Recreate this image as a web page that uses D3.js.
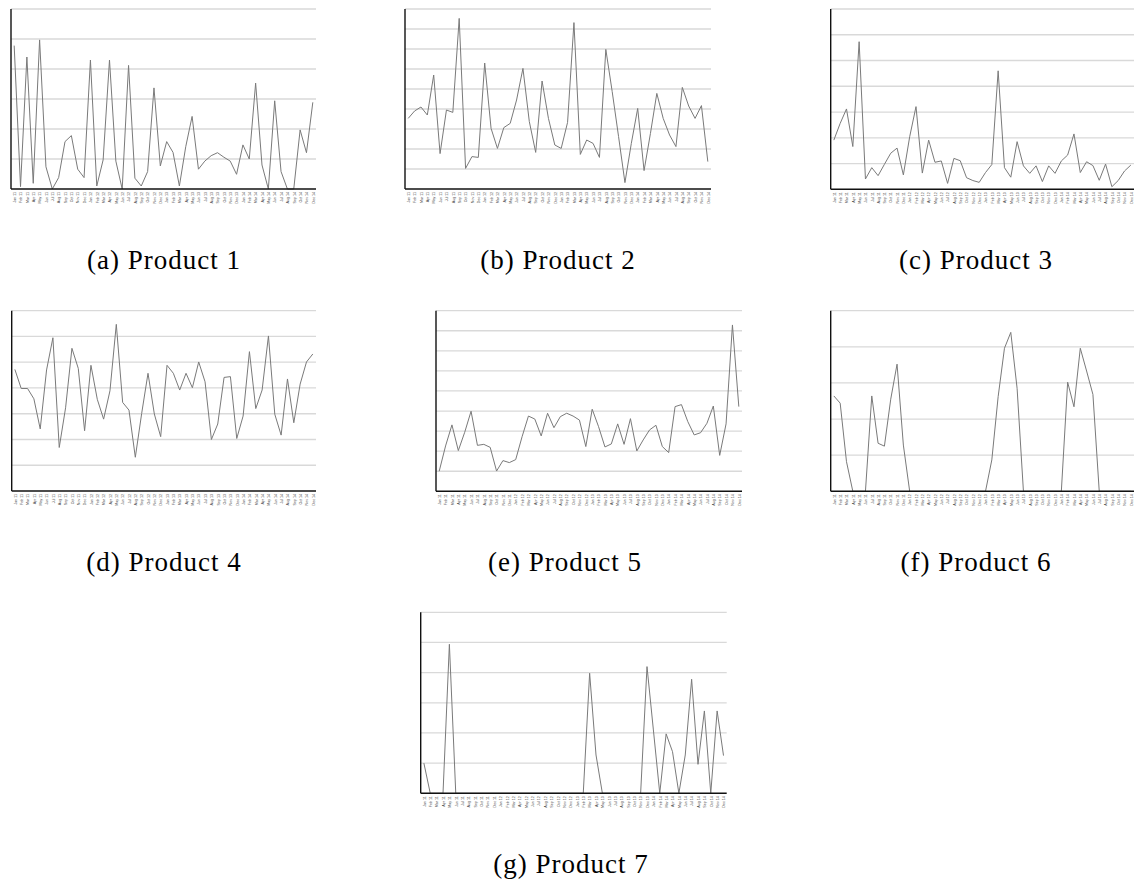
<!DOCTYPE html>
<html>
<head>
<meta charset="utf-8">
<script src="https://cdn.jsdelivr.net/npm/d3@7"></script>
<style>
  html, body { margin: 0; padding: 0; background: #fff; }
  svg { display: block; }
  .caption { font-family: "Liberation Serif", "Times New Roman", serif; fill: #000; letter-spacing: 1px; }
  .tick-label { font-family: "Liberation Sans", Arial, sans-serif; fill: #444; }
</style>
</head>
<body>
<svg id="chart" width="1134" height="882"></svg>
<script>
// Month tick labels, Jan 11 .. Dec 14
const monthNames = ["Jan", "Feb", "Mar", "Apr", "May", "Jun", "Jul", "Aug", "Sep", "Oct", "Nov", "Dec"];
const yearSuffixes = ["11", "12", "13", "14"];
const monthLabels = yearSuffixes.flatMap(y => monthNames.map(m => `${m} ${y}`));

// Panel captions
const panelLetters = ["a", "b", "c", "d", "e", "f", "g"];
const productNames = ["Product 1", "Product 2", "Product 3", "Product 4", "Product 5", "Product 6", "Product 7"];

// Number of gridline steps on each panel's value axis
const gridSteps = [6, 9, 7, 7, 9, 5, 6];

// Monthly sales per product (in gridline units)
const product1 = [4.78, 0.08, 4.40, 0.19, 4.97, 0.74, 0.00, 0.38, 1.58, 1.78, 0.66, 0.38,
                  4.30, 0.10, 0.97, 4.30, 0.93, 0.00, 4.12, 0.36, 0.10, 0.58, 3.37, 0.77,
                  1.58, 1.22, 0.10, 1.41, 2.42, 0.66, 0.93, 1.11, 1.21, 1.06, 0.93, 0.49,
                  1.47, 1.00, 3.53, 0.80, 0.00, 2.94, 0.58, 0.00, 0.00, 1.97, 1.21, 2.89];
const product2 = [3.53, 3.90, 4.10, 3.70, 5.70, 1.77, 3.95, 3.83, 8.53, 1.03, 1.62, 1.58,
                  6.30, 3.03, 2.03, 3.07, 3.28, 4.45, 6.03, 3.37, 1.83, 5.40, 3.53, 2.20,
                  2.03, 3.33, 8.32, 1.73, 2.45, 2.28, 1.58, 6.98, 4.87, 2.62, 0.32, 2.28,
                  4.03, 0.92, 2.78, 4.78, 3.53, 2.70, 2.12, 5.08, 4.15, 3.53, 4.17, 1.37];
const product3 = [1.91, 2.56, 3.12, 1.66, 5.73, 0.40, 0.84, 0.53, 0.97, 1.40, 1.60, 0.56,
                  2.04, 3.21, 0.63, 1.91, 1.05, 1.10, 0.23, 1.20, 1.11, 0.45, 0.34, 0.27,
                  0.65, 0.96, 4.60, 0.84, 0.47, 1.85, 0.91, 0.62, 0.91, 0.30, 0.91, 0.62,
                  1.10, 1.33, 2.15, 0.65, 1.07, 0.92, 0.35, 0.98, 0.10, 0.34, 0.71, 0.94];
const product4 = [4.72, 3.98, 3.98, 3.58, 2.41, 4.70, 5.95, 1.69, 3.23, 5.54, 4.76, 2.34,
                  4.88, 3.56, 2.79, 3.89, 6.47, 3.44, 3.14, 1.31, 3.01, 4.57, 2.99, 2.11,
                  4.88, 4.57, 3.92, 4.57, 4.01, 5.01, 4.24, 2.00, 2.60, 4.41, 4.44, 2.04,
                  2.91, 5.41, 3.20, 3.92, 6.02, 2.98, 2.17, 4.35, 2.65, 4.15, 5.01, 5.32];
const product5 = [1.00, 2.26, 3.31, 2.03, 2.94, 3.99, 2.29, 2.34, 2.19, 1.01, 1.53, 1.43,
                  1.58, 2.72, 3.75, 3.60, 2.76, 3.89, 3.17, 3.72, 3.89, 3.75, 3.55, 2.23,
                  4.09, 3.22, 2.21, 2.36, 3.36, 2.34, 3.62, 2.01, 2.56, 3.06, 3.29, 2.23,
                  1.93, 4.22, 4.32, 3.47, 2.81, 2.92, 3.39, 4.25, 1.79, 3.36, 8.29, 4.22];
const product6 = [2.64, 2.44, 0.82, 0.00, 0.00, 0.00, 2.64, 1.33, 1.25, 2.55, 3.52, 1.28,
                  0.00, 0.00, 0.00, 0.00, 0.00, 0.00, 0.00, 0.00, 0.00, 0.00, 0.00, 0.00,
                  0.00, 0.87, 2.62, 3.96, 4.40, 2.85, 0.00, 0.00, 0.00, 0.00, 0.00, 0.00,
                  0.00, 3.02, 2.34, 3.96, 3.33, 2.68, 0.00, 0.00, 0.00, 0.00, 0.00, 0.00];
const product7 = [1.00, 0.00, 0.00, 0.00, 4.94, 0.00, 0.00, 0.00, 0.00, 0.00, 0.00, 0.00,
                  0.00, 0.00, 0.00, 0.00, 0.00, 0.00, 0.00, 0.00, 0.00, 0.00, 0.00, 0.00,
                  0.00, 0.00, 3.98, 1.27, 0.00, 0.00, 0.00, 0.00, 0.00, 0.00, 0.00, 4.20,
                  2.10, 0.00, 1.97, 1.38, 0.00, 1.27, 3.78, 0.96, 2.73, 0.00, 2.73, 1.25];

const seriesList = [product1, product2, product3, product4, product5, product6, product7];

// Plot-area boxes and caption anchors for the 3-3-1 grid of subfigures
const boxes = [
  { left: 11,    right: 316,   top: 9,     bottom: 189,   capX: 164, capY: 269 },
  { left: 405,   right: 711,   top: 9,     bottom: 189,   capX: 558, capY: 269 },
  { left: 830.7, right: 1134,  top: 9,     bottom: 189.3, capX: 976, capY: 269 },
  { left: 11.7,  right: 316,   top: 310.7, bottom: 491,   capX: 164, capY: 571 },
  { left: 436,   right: 742,   top: 310.7, bottom: 491.3, capX: 565, capY: 571 },
  { left: 830.7, right: 1134,  top: 310.7, bottom: 491.3, capX: 976, capY: 571 },
  { left: 420.7, right: 726.7, top: 612.3, bottom: 793.3, capX: 571, capY: 873 }
];

const svg = d3.select("#chart");

seriesList.forEach((values, i) => {
  const b = boxes[i];
  const g = svg.append("g");

  const x = d3.scalePoint()
    .domain(monthLabels)
    .range([b.left, b.right])
    .padding(0.5);

  const y = d3.scaleLinear()
    .domain([0, gridSteps[i]])
    .range([b.bottom, b.top]);

  // horizontal gridlines
  g.append("g")
    .selectAll("line")
    .data(d3.range(1, gridSteps[i] + 1))
    .join("line")
    .attr("x1", b.left)
    .attr("x2", b.right)
    .attr("y1", d => y(d))
    .attr("y2", d => y(d))
    .attr("stroke", "#d9d9d9")
    .attr("stroke-width", 1.3);

  // data line
  const line = d3.line()
    .x((d, k) => x(monthLabels[k]))
    .y(d => y(d));

  g.append("path")
    .datum(values)
    .attr("d", line)
    .attr("fill", "none")
    .attr("stroke", "#7a7a7a")
    .attr("stroke-width", 1)
    .attr("stroke-linejoin", "miter");

  // value axis line (no ticks / labels)
  g.append("line")
    .attr("x1", b.left).attr("x2", b.left)
    .attr("y1", b.top).attr("y2", b.bottom)
    .attr("stroke", "#111")
    .attr("stroke-width", 1.4);

  // month axis with rotated labels
  const xAxis = d3.axisBottom(x).tickSize(0).tickPadding(0);
  const ax = g.append("g")
    .attr("transform", `translate(0,${b.bottom})`)
    .call(xAxis);
  ax.select(".domain")
    .attr("d", `M${b.left},0H${b.right}`)
    .attr("stroke", "#111")
    .attr("stroke-width", 1.4);
  ax.selectAll(".tick text")
    .attr("class", "tick-label")
    .attr("font-size", 3.6)
    .attr("text-anchor", "end")
    .attr("dy", "0.35em")
    .attr("transform", "translate(0,3) rotate(-90)")
    .attr("x", 0)
    .attr("y", 0);

  // caption
  svg.append("text")
    .attr("class", "caption")
    .attr("x", b.capX)
    .attr("y", b.capY)
    .attr("text-anchor", "middle")
    .attr("font-size", 27)
    .text(`(${panelLetters[i]}) ${productNames[i]}`);
});
</script>
</body>
</html>
